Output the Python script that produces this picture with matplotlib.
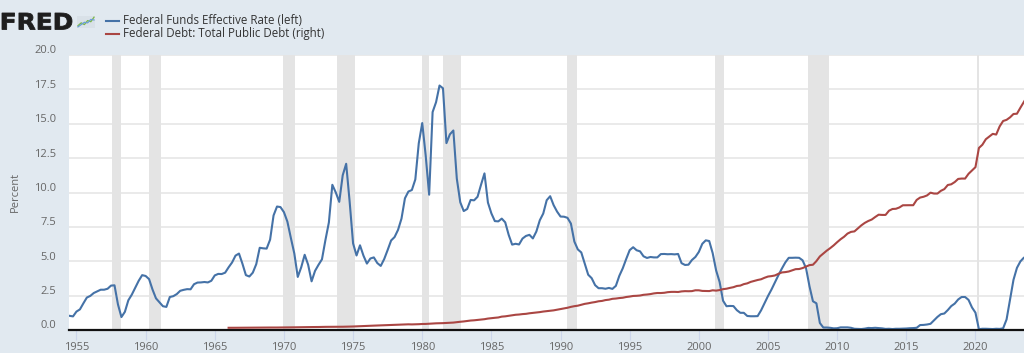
import matplotlib.pyplot as plt
import numpy as np
from matplotlib.transforms import ScaledTranslation, Affine2D, IdentityTransform
from matplotlib.textpath import TextPath
from matplotlib.patches import PathPatch
from matplotlib.font_manager import FontProperties

# Federal funds effective rate, quarterly averages (percent), 1954 Q3 onward
ff_start = 1954.5
fedfunds = [
    1.03, 0.99,
    1.34, 1.50, 1.94, 2.36,  2.48, 2.69, 2.81, 2.93,  2.93, 3.00, 3.23, 3.25,
    1.86, 0.94, 1.32, 2.16,  2.57, 3.08, 3.58, 3.99,  3.93, 3.70, 2.94, 2.30,
    2.02, 1.73, 1.68, 2.40,  2.46, 2.61, 2.85, 2.92,  2.97, 2.96, 3.33, 3.45,
    3.46, 3.49, 3.46, 3.58,  3.97, 4.08, 4.07, 4.17,  4.56, 4.91, 5.41, 5.56,
    4.82, 3.99, 3.89, 4.17,  4.79, 5.98, 5.94, 5.92,  6.57, 8.33, 8.98, 8.94,
    8.57, 7.88, 6.70, 5.57,  3.86, 4.56, 5.47, 4.75,  3.54, 4.30, 4.74, 5.14,
    6.54, 7.82, 10.56, 10.00,  9.32, 11.25, 12.09, 9.35,  6.30, 5.42, 6.16, 5.41,
    4.83, 5.20, 5.28, 4.87,  4.66, 5.16, 5.82, 6.51,  6.76, 7.28, 8.10, 9.58,
    10.07, 10.18, 10.95, 13.58,  15.05, 12.69, 9.84, 15.85,  16.57, 17.78, 17.58, 13.59,
    14.23, 14.51, 11.01, 9.29,  8.65, 8.80, 9.46, 9.43,  9.69, 10.56, 11.39, 9.27,
    8.48, 7.92, 7.90, 8.10,  7.83, 6.92, 6.21, 6.27,  6.22, 6.65, 6.84, 6.92,
    6.66, 7.16, 7.98, 8.47,  9.44, 9.73, 9.08, 8.61,  8.25, 8.24, 8.16, 7.74,
    6.43, 5.86, 5.64, 4.82,  4.02, 3.77, 3.26, 3.04,  3.04, 3.00, 3.06, 2.99,
    3.21, 3.94, 4.49, 5.17,  5.81, 6.02, 5.80, 5.72,  5.36, 5.24, 5.31, 5.28,
    5.28, 5.52, 5.53, 5.51,  5.52, 5.50, 5.53, 4.86,  4.73, 4.75, 5.09, 5.31,
    5.68, 6.27, 6.52, 6.47,  5.59, 4.33, 3.50, 2.13,  1.73, 1.75, 1.74, 1.44,
    1.25, 1.25, 1.02, 1.00,  1.00, 1.01, 1.43, 1.95,  2.47, 2.94, 3.46, 3.98,
    4.46, 4.91, 5.25, 5.25,  5.26, 5.25, 5.07, 4.50,  3.18, 2.09, 1.94, 0.51,
    0.18, 0.18, 0.16, 0.12,  0.13, 0.19, 0.19, 0.19,  0.16, 0.09, 0.08, 0.07,
    0.10, 0.15, 0.14, 0.16,  0.14, 0.12, 0.08, 0.09,  0.07, 0.09, 0.09, 0.10,
    0.11, 0.13, 0.14, 0.16,  0.36, 0.37, 0.40, 0.45,  0.70, 0.95, 1.15, 1.20,
    1.45, 1.74, 1.92, 2.22,  2.40, 2.40, 2.19, 1.64,  1.26, 0.06, 0.09, 0.09,
    0.08, 0.07, 0.09, 0.08,  0.12, 0.77, 2.19, 3.65,  4.52, 4.99, 5.26, 5.33,
]

# Federal debt: total public debt, quarterly (billions of dollars), 1966 Q1 onward
debt_start = 1966.0
debt = [
    321.0, 316.1, 324.7, 329.3,  330.9, 322.9, 335.3, 344.7,  349.0, 347.6, 356.9, 358.0,
    359.6, 353.7, 360.0, 368.2,  372.0, 370.9, 383.4, 389.2,  391.7, 398.1, 412.3, 424.1,
    427.3, 427.3, 436.5, 449.3,  458.1, 458.1, 465.5, 469.9,  474.2, 474.2, 481.5, 492.7,
    509.7, 533.2, 554.3, 576.6,  599.0, 620.4, 634.7, 653.5,  680.1, 685.2, 709.1, 729.2,
    758.8, 771.5, 780.4, 797.8,  826.5, 812.2, 826.5, 845.1,  874.0, 881.6, 914.3, 936.7,
    970.9, 977.4, 997.9, 1028.7,  1061.3, 1079.6, 1142.0, 1197.1,  1245.3, 1318.9, 1377.2, 1410.7,
    1463.7, 1512.7, 1572.3, 1663.0,  1710.7, 1774.6, 1823.1, 1945.9,  1986.8, 2059.3, 2125.3, 2214.8,
    2250.7, 2313.1, 2350.3, 2431.7,  2487.6, 2547.7, 2602.3, 2684.4,  2740.9, 2799.9, 2857.4, 2953.0,
    3052.0, 3143.8, 3233.3, 3364.8,  3465.2, 3538.0, 3665.3, 3801.7,  3881.3, 3984.7, 4064.6, 4177.0,
    4230.6, 4352.0, 4411.5, 4535.7,  4575.9, 4645.8, 4692.7, 4800.2,  4864.1, 4951.4, 4974.0, 5017.0,
    5117.8, 5161.1, 5224.8, 5323.2,  5380.9, 5376.2, 5413.1, 5502.4,  5542.4, 5547.9, 5526.2, 5614.2,
    5651.6, 5638.8, 5656.3, 5776.1,  5773.4, 5685.9, 5674.2, 5662.2,  5773.7, 5726.8, 5807.5, 5943.4,
    6006.0, 6126.5, 6228.2, 6405.7,  6460.8, 6670.1, 6783.2, 6998.0,  7131.1, 7274.3, 7379.1, 7596.1,
    7776.9, 7836.5, 7932.7, 8170.4,  8371.2, 8420.0, 8507.0, 8680.2,  8849.7, 8867.7, 9007.7, 9229.2,
    9437.6, 9492.0, 10024.7, 10699.8,  11126.9, 11545.3, 11909.8, 12311.4,  12773.1, 13201.8, 13561.6, 14025.2,
    14270.0, 14343.1, 14790.3, 15222.9,  15582.1, 15855.5, 16066.2, 16432.7,  16771.6, 16738.2, 16738.2, 17352.0,
    17601.2, 17632.6, 17824.1, 18141.4,  18152.1, 18152.0, 18150.6, 18922.2,  19264.9, 19381.6, 19573.4, 19976.8,
    19846.4, 19844.6, 20244.9, 20492.9,  21089.9, 21195.1, 21516.1, 21974.1,  22027.9, 22023.3, 22719.4, 23201.4,
    23686.9, 26477.2, 26945.4, 27747.8,  28132.6, 28529.4, 28428.9, 29617.2,  30400.9, 30568.6, 30928.9, 31419.7,
    31458.4, 32332.3, 33167.3, 34001.5,
]

# NBER recessions (start, end) in decimal years
recessions = [
    (1957.58, 1958.25), (1960.25, 1961.08), (1969.92, 1970.83), (1973.83, 1975.17),
    (1980.0, 1980.5), (1981.5, 1982.83), (1990.5, 1991.17), (2001.17, 2001.83),
    (2007.92, 2009.42), (2020.08, 2020.25),
]

yticks = [0, 2.5, 5, 7.5, 10, 12.5, 15, 17.5, 20]
xticks = list(range(1955, 2025, 5))

legend_labels = ["Federal Funds Effective Rate (left)", "Federal Debt: Total Public Debt (right)"]
blue = "#4572a7"
red = "#aa4643"

W, H = 1024, 353
fig = plt.figure(figsize=(W / 100, H / 100), dpi=100)
fig.patch.set_facecolor("#e1e9f0")

ax = fig.add_axes([69 / W, (H - 330) / H, (W - 69) / W, (330 - 55) / H])
ax.set_facecolor("white")

x_ff = ff_start + np.arange(len(fedfunds)) / 4
x_debt = debt_start + np.arange(len(debt)) / 4

for a, b in recessions:
    ax.axvspan(a, b, color="#e4e4e4", lw=0, zorder=1)

ax.plot(x_ff, fedfunds, color=blue, lw=1.5, zorder=3)

ax2 = ax.twinx()
ax2.plot(x_debt, np.array(debt) / 1000, color=red, lw=1.5, zorder=3)
ax2.set_ylim(0, 40)
ax2.axis("off")

ax.set_xlim(1954.46, 2023.51)
ax.set_ylim(0, 20)
ax.set_yticks(yticks)
ax.set_yticklabels([f"{v:.1f}" for v in yticks])
ax.set_xticks(xticks)
ax.grid(axis="y", color="#e6e6e6", lw=1.2, zorder=0)
ax.set_axisbelow(True)

for s in ["top", "right", "left"]:
    ax.spines[s].set_visible(False)
ax.spines["bottom"].set_color("#111111")
ax.spines["bottom"].set_linewidth(1.6)
ax.spines["bottom"].set_zorder(5)

ax.tick_params(axis="y", length=0, pad=9, labelsize=8, labelcolor="#666666")
ax.tick_params(axis="x", length=7, width=0.8, color="#ccd6eb", pad=2,
               labelsize=8, labelcolor="#666666")
for lab in ax.get_yticklabels():
    lab.set_fontfamily("Open Sans")
    lab.set_transform(lab.get_transform() + ScaledTranslation(0, 4 / 72, fig.dpi_scale_trans))
for lab in ax.get_xticklabels():
    lab.set_fontfamily("Open Sans")

fig.text(15 / W, 1 - 192 / H, "Percent", rotation=90, ha="center", va="center",
         fontsize=8, color="#666666", family="Open Sans")

# header: FRED logo (text path stretched to the logo box, in pixels)
tp = TextPath((0, 0), "FRED", size=20, prop=FontProperties(family="DejaVu Sans", weight="bold"))
bb = tp.get_extents()
sx = 70 / bb.width
sy = 16.5 / bb.height
logo_tf = Affine2D().translate(-bb.x0, -bb.y0).scale(sx, sy).translate(2, H - 29.5) + IdentityTransform()
fig.add_artist(PathPatch(tp, transform=logo_tf, facecolor="#1e1e1e", edgecolor="#1e1e1e", lw=0.6))

icon = fig.add_axes([77 / W, 1 - 28 / H, 18 / W, 12 / H])
icon.set_facecolor("#d9e1e8")
icon.plot([0, 1, 2, 3, 4, 5], [0.8, 1.8, 1.2, 2.6, 2.2, 3.8], color="#7ab648", lw=0.9)
icon.plot([0, 1, 2, 3, 4, 5], [0.4, 1.2, 2.0, 1.8, 3.0, 2.8], color="#6a9fd4", lw=0.9)
icon.set_xlim(-0.3, 5.3)
icon.set_ylim(0, 4.2)
icon.set_xticks([])
icon.set_yticks([])
for s in icon.spines.values():
    s.set_visible(False)

for i, (lab, col) in enumerate(zip(legend_labels, [blue, red])):
    yy = 1 - (20.5 + i * 13) / H
    fig.add_artist(plt.Line2D([106 / W, 119 / W], [yy, yy], color=col, lw=1.5))
    fig.text(123 / W, yy, lab, fontsize=8.3, color="#333333", ha="left", va="center",
             family="Open Sans")

fig.savefig("out.png", dpi=100, facecolor=fig.get_facecolor())
